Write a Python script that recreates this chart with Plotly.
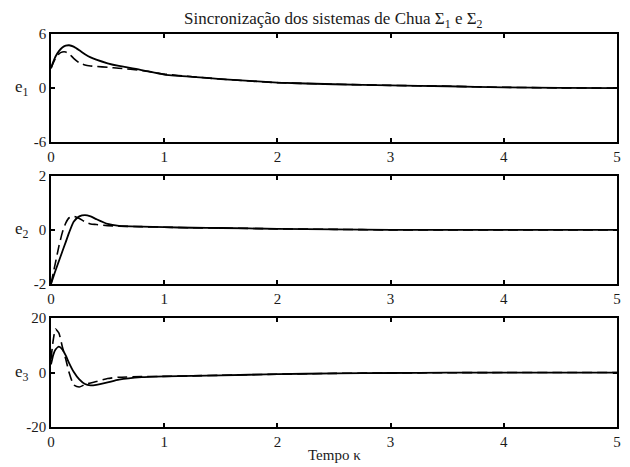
import plotly.graph_objects as go

# ---- data ----
t = [0, 0.02, 0.04, 0.07, 0.1, 0.13, 0.16, 0.2, 0.25, 0.3, 0.35, 0.4, 0.5, 0.6,
     0.8, 1.0, 1.25, 1.5, 2, 2.5, 3, 3.5, 4, 4.5, 5]

e1_solid = [2.2, 2.9, 3.5, 4.1, 4.5, 4.7, 4.75, 4.6, 4.2, 3.75, 3.4, 3.15, 2.75, 2.45,
            2.0, 1.5, 1.25, 1.0, 0.6, 0.42, 0.3, 0.2, 0.08, 0.02, 0.0]
e1_dash = [2.2, 2.8, 3.3, 3.8, 4.0, 4.0, 3.8, 3.3, 2.8, 2.55, 2.45, 2.4, 2.3, 2.2,
           1.95, 1.55, 1.25, 1.0, 0.6, 0.42, 0.3, 0.2, 0.08, 0.02, 0.0]

e2_solid = [-2, -1.75, -1.5, -1.15, -0.8, -0.45, -0.1, 0.3, 0.5, 0.55, 0.5, 0.4, 0.22, 0.15,
            0.12, 0.1, 0.08, 0.07, 0.04, 0.02, 0.0, 0.0, 0.0, 0.0, 0.0]
e2_dash = [-2, -1.6, -1.2, -0.6, -0.1, 0.25, 0.45, 0.5, 0.42, 0.3, 0.22, 0.2, 0.16, 0.14,
           0.12, 0.1, 0.08, 0.07, 0.04, 0.02, 0.0, 0.0, 0.0, 0.0, 0.0]

e3_solid = [3, 6.5, 8.5, 9.5, 8.5, 6.3, 3.5, 0.3, -2.5, -4.2, -4.7, -4.5, -3.6, -2.6,
            -1.7, -1.4, -1.2, -1.0, -0.6, -0.3, -0.15, -0.05, 0.0, 0.0, 0.0]
e3_dash = [5, 12, 16, 14.5, 9.5, 5, 0, -4.5, -5.3, -4.4, -3.8, -3.3, -2.2, -1.7,
           -1.5, -1.4, -1.2, -1.0, -0.6, -0.3, -0.15, -0.05, 0.0, 0.0, 0.0]

x_ticks = [0, 1, 2, 3, 4, 5]
y1_ticks = [-6, 0, 6]
y2_ticks = [-2, 0, 2]
y3_ticks = [-20, 0, 20]
y_labels = ["e<sub>1</sub>", "e<sub>2</sub>", "e<sub>3</sub>"]

title_text = "Sincronização dos sistemas de Chua Σ<sub>1</sub> e Σ<sub>2</sub>"
xlabel = "Tempo κ"

FONT = "Liberation Serif"
TXT = "#1a1a1a"

fig = go.Figure()
panels = [
    (e1_solid, e1_dash, y1_ticks, y_labels[0], [0.725, 1.0]),
    (e2_solid, e2_dash, y2_ticks, y_labels[1], [0.364, 0.639]),
    (e3_solid, e3_dash, y3_ticks, y_labels[2], [0.0, 0.277]),
]

for i, (ys, yd, yt, lab, dom) in enumerate(panels):
    n = "" if i == 0 else str(i + 1)
    fig.add_trace(go.Scatter(x=t, y=ys, mode="lines", xaxis="x" + n, yaxis="y" + n,
                             line=dict(color="black", width=1.8, shape="spline", smoothing=0.5),
                             showlegend=False))
    fig.add_trace(go.Scatter(x=t, y=yd, mode="lines", xaxis="x" + n, yaxis="y" + n,
                             line=dict(color="black", width=1.6, dash="10px,5px", shape="spline", smoothing=0.5),
                             showlegend=False))
    ax = dict(range=[0, 5], tickvals=x_ticks, ticktext=[str(v) for v in x_ticks],
              ticks="inside", ticklen=4, tickwidth=1.5, tickcolor="black",
              showline=True, linecolor="black", linewidth=1.5, mirror="ticks",
              showgrid=False, zeroline=False, anchor="y" + n, automargin=False,
              ticklabeloverflow="allow",
              tickfont=dict(family=FONT, size=15, color=TXT))
    ay = dict(range=[yt[0], yt[-1]], tickvals=yt, ticktext=[str(v) for v in yt],
              ticks="inside", ticklen=4, tickwidth=1.5, tickcolor="black",
              showline=True, linecolor="black", linewidth=1.5, mirror="ticks",
              showgrid=False, zeroline=False, domain=dom, anchor="x" + n, automargin=False,
              ticklabeloverflow="allow",
              tickfont=dict(family=FONT, size=15, color=TXT))
    fig.layout["xaxis" + n] = ax
    fig.layout["yaxis" + n] = ay
    fig.add_annotation(text=lab, xref="paper", yref="y" + n, x=-0.052, y=0,
                       xanchor="center", yanchor="middle", showarrow=False,
                       font=dict(family=FONT, size=17, color=TXT))

fig.add_annotation(text=xlabel, xref="paper", yref="paper", x=0.5, y=-0.071,
                   xanchor="center", yanchor="middle", showarrow=False,
                   font=dict(family=FONT, size=15, color=TXT))

# page body has an 8px default margin; size and margins compensate for it
fig.update_layout(
    width=622, height=459,
    margin=dict(l=43, r=13, t=26, b=40),
    paper_bgcolor="white", plot_bgcolor="white",
    title=dict(text=title_text, x=0.523, xanchor="center", y=0.978, yanchor="middle",
               font=dict(family=FONT, size=17, color=TXT)),
)

fig.write_html("out.html")
